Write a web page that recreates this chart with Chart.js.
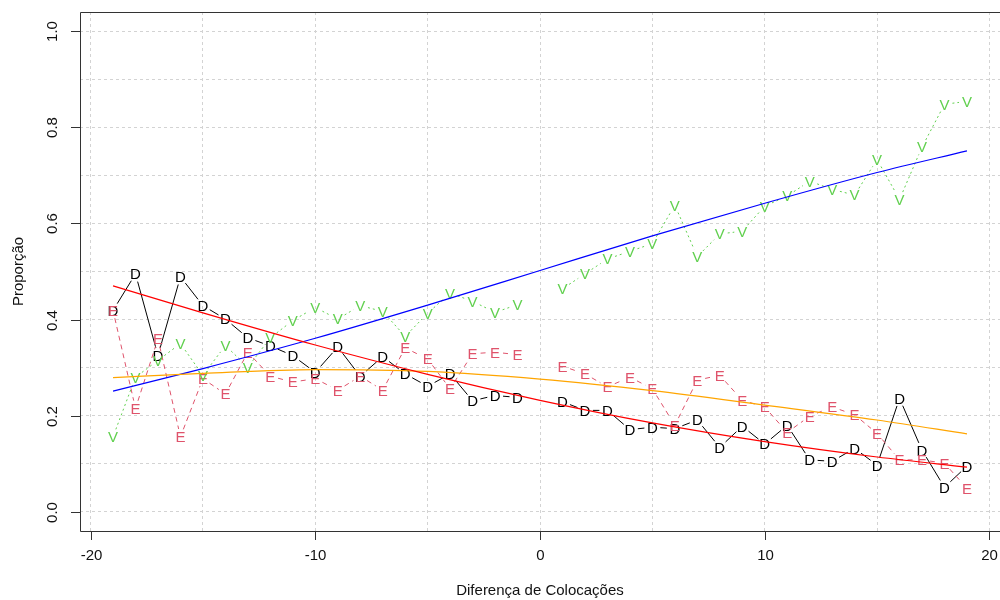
<!DOCTYPE html>
<html>
<head>
<meta charset="utf-8">
<script src="https://cdn.jsdelivr.net/npm/chart.js@4"></script>
<style>
  html, body { margin: 0; padding: 0; background: #fff; overflow: hidden; }
  canvas { display: block; }
</style>
</head>
<body>
<canvas id="grafico" width="1000" height="600"></canvas>
<script>
// diferença de colocações (0 não observado)
const xVals = [-19, -18, -17, -16, -15, -14, -13, -12, -11, -10, -9, -8, -7, -6, -5, -4, -3, -2, -1, 0,
               1, 2, 3, 4, 5, 6, 7, 8, 9, 10, 11, 12, 13, 14, 15, 16, 17, 18, 19];

// proporções observadas
const derrotas = [0.419, 0.495, 0.325, 0.489, 0.429, 0.401, 0.362, 0.345, 0.325, 0.290, 0.343, 0.282, 0.323, 0.287, 0.261, 0.287, 0.231, 0.242, 0.238, null,
                  0.229, 0.211, 0.211, 0.171, 0.176, 0.173, 0.191, 0.134, 0.178, 0.141, 0.180, 0.108, 0.105, 0.132, 0.097, 0.236, 0.128, 0.051, 0.095];
const empates = [0.419, 0.215, 0.360, 0.156, 0.277, 0.245, 0.332, 0.282, 0.270, 0.277, 0.253, 0.282, 0.253, 0.341, 0.318, 0.256, 0.329, 0.332, 0.327, null,
                 0.303, 0.287, 0.260, 0.280, 0.256, 0.180, 0.274, 0.284, 0.232, 0.218, 0.165, 0.199, 0.218, 0.202, 0.163, 0.108, 0.108, 0.101, 0.049];
const vitorias = [0.156, 0.280, 0.315, 0.350, 0.284, 0.346, 0.301, 0.362, 0.398, 0.425, 0.401, 0.429, 0.417, 0.365, 0.413, 0.455, 0.438, 0.415, 0.431, null,
                  0.464, 0.495, 0.526, 0.542, 0.558, 0.638, 0.531, 0.578, 0.584, 0.636, 0.657, 0.688, 0.671, 0.659, 0.733, 0.650, 0.759, 0.848, 0.854];

// curvas ajustadas
const ajusteX = [-19, -15, -10, -5, 0, 5, 10, 15, 19];
const ajusteD = [0.470, 0.414, 0.347, 0.286, 0.232, 0.185, 0.146, 0.114, 0.093];
const ajusteE = [0.279, 0.288, 0.296, 0.292, 0.276, 0.252, 0.222, 0.191, 0.162];
const ajusteV = [0.251, 0.298, 0.361, 0.430, 0.502, 0.574, 0.642, 0.706, 0.751];

const yTicks = [0, 0.2, 0.4, 0.6, 0.8, 1.0];
const xTicks = [-20, -10, 0, 10, 20];

const FONTE = '15px "Liberation Sans", Arial, sans-serif';

function pares(xs, ys) {
    return xs.map((x, i) => ({ x: x, y: ys[i] }));
}

// séries com letras (estilo type="b" do R)
const series = [
    { letra: 'D', cor: '#000000', dash: [] },
    { letra: 'E', cor: '#DF536B', dash: [5, 4] },
    { letra: 'V', cor: '#61D04F', dash: [2, 3] }
];

const estiloR = {
    id: 'estiloR',
    beforeDatasetsDraw(chart) {
        const ctx = chart.ctx;
        const gap = 8;
        ctx.save();
        series.forEach((s, k) => {
            const pts = chart.getDatasetMeta(k).data;
            ctx.strokeStyle = s.cor;
            ctx.lineWidth = 1;
            ctx.setLineDash(s.dash);
            for (let i = 0; i < pts.length - 1; i++) {
                const p1 = pts[i], p2 = pts[i + 1];
                if (p1.skip || p2.skip) continue;
                const dx = p2.x - p1.x, dy = p2.y - p1.y;
                const d = Math.sqrt(dx * dx + dy * dy);
                if (d <= 2 * gap) continue;
                const ux = dx / d, uy = dy / d;
                ctx.beginPath();
                ctx.moveTo(p1.x + ux * gap, p1.y + uy * gap);
                ctx.lineTo(p2.x - ux * gap, p2.y - uy * gap);
                ctx.stroke();
            }
            ctx.setLineDash([]);
            ctx.fillStyle = s.cor;
            ctx.font = FONTE;
            ctx.textAlign = 'center';
            ctx.textBaseline = 'alphabetic';
            pts.forEach(p => {
                if (p.skip) return;
                ctx.fillText(s.letra, p.x, p.y + 5.4);
            });
        });
        ctx.restore();
    },
    afterDraw(chart) {
        const ctx = chart.ctx;
        const a = chart.chartArea;
        const sx = chart.scales.x, sy = chart.scales.y;
        ctx.save();
        ctx.strokeStyle = '#333';
        ctx.lineWidth = 1;
        ctx.beginPath();
        ctx.moveTo(a.right + 2, a.top + 0.5);
        ctx.lineTo(a.left + 0.5, a.top + 0.5);
        ctx.lineTo(a.left + 0.5, a.bottom + 0.5);
        ctx.lineTo(a.right + 2, a.bottom + 0.5);
        ctx.stroke();

        ctx.fillStyle = '#111';
        ctx.font = FONTE;
        ctx.textAlign = 'center';
        ctx.textBaseline = 'middle';

        // eixo x
        xTicks.forEach(v => {
            const px = Math.round(sx.getPixelForValue(v)) + 0.5;
            ctx.beginPath();
            ctx.moveTo(px, a.bottom);
            ctx.lineTo(px, a.bottom + 9);
            ctx.stroke();
            ctx.fillText(String(v), px, 556);
        });

        // eixo y
        yTicks.forEach(v => {
            const py = Math.round(sy.getPixelForValue(v)) + 0.5;
            ctx.beginPath();
            ctx.moveTo(a.left - 9, py);
            ctx.lineTo(a.left, py);
            ctx.stroke();
            ctx.save();
            ctx.translate(53, py);
            ctx.rotate(-Math.PI / 2);
            ctx.fillText(v.toFixed(1), 0, 0);
            ctx.restore();
        });

        // títulos
        ctx.fillText('Diferença de Colocações', (a.left + 1000) / 2, 591);
        ctx.save();
        ctx.translate(19, (a.top + a.bottom) / 2);
        ctx.rotate(-Math.PI / 2);
        ctx.fillText('Proporção', 0, 0);
        ctx.restore();
        ctx.restore();
    }
};

const ctxGraf = document.getElementById('grafico').getContext('2d');
new Chart(ctxGraf, {
    type: 'line',
    data: {
        datasets: [
            { label: 'D', data: pares(xVals, derrotas), showLine: false, pointRadius: 0 },
            { label: 'E', data: pares(xVals, empates), showLine: false, pointRadius: 0 },
            { label: 'V', data: pares(xVals, vitorias), showLine: false, pointRadius: 0 },
            { label: 'ajuste D', data: pares(ajusteX, ajusteD), borderColor: '#FF0000', borderWidth: 1.2,
              pointRadius: 0, cubicInterpolationMode: 'monotone', fill: false },
            { label: 'ajuste E', data: pares(ajusteX, ajusteE), borderColor: '#FFA500', borderWidth: 1.2,
              pointRadius: 0, cubicInterpolationMode: 'monotone', fill: false },
            { label: 'ajuste V', data: pares(ajusteX, ajusteV), borderColor: '#0000FF', borderWidth: 1.2,
              pointRadius: 0, cubicInterpolationMode: 'monotone', fill: false }
        ]
    },
    options: {
        responsive: false,
        animation: false,
        events: [],
        devicePixelRatio: 1,
        layout: { padding: { top: 12, left: 0, right: 0, bottom: 0 } },
        plugins: {
            legend: { display: false },
            tooltip: { enabled: false }
        },
        scales: {
            x: {
                type: 'linear',
                min: -20.47,
                max: 20.47,
                afterFit(s) { s.height = 69; },
                ticks: { display: false, stepSize: 5, includeBounds: false },
                grid: { color: '#d3d3d3', lineWidth: 1, drawTicks: false },
                border: { display: false, dash: [3, 3] }
            },
            y: {
                min: -0.04,
                max: 1.04,
                afterFit(s) { s.width = 80; },
                ticks: { display: false, stepSize: 0.1, includeBounds: false },
                grid: { color: '#d3d3d3', lineWidth: 1, drawTicks: false },
                border: { display: false, dash: [3, 3] }
            }
        }
    },
    plugins: [estiloR]
});
</script>
</body>
</html>
